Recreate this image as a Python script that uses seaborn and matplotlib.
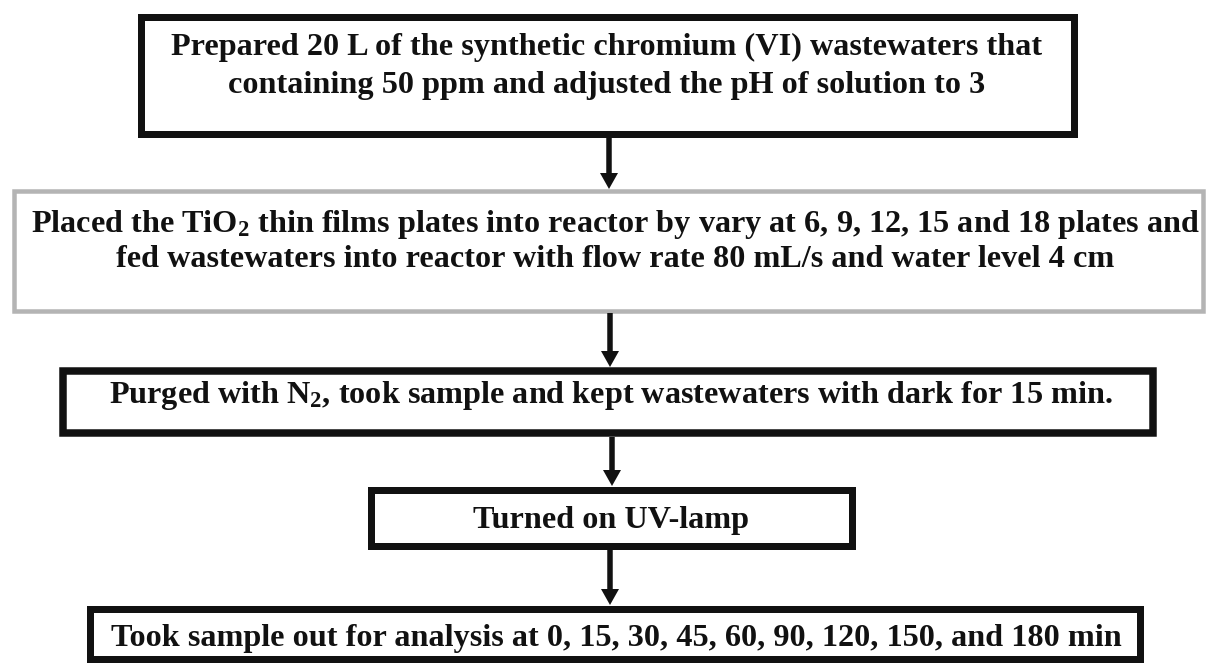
import matplotlib
matplotlib.use("Agg")
import matplotlib.pyplot as plt
import seaborn as sns
from matplotlib.patches import Rectangle, FancyArrow

# ---- chart content -------------------------------------------------------
step1_lines = ["Prepared 20 L of the synthetic chromium (VI) wastewaters that",
               "containing 50 ppm and adjusted the pH of solution to 3"]
step2_lines = [r"Placed the TiO$_2$ thin films plates into reactor by vary at 6, 9, 12, 15 and 18 plates and",
               "fed wastewaters into reactor with flow rate 80 mL/s and water level 4 cm"]
step3_lines = [r"Purged with N$_2$, took sample and kept wastewaters with dark for 15 min."]
step4_lines = ["Turned on UV-lamp"]
step5_lines = ["Took sample out for analysis at 0, 15, 30, 45, 60, 90, 120, 150, and 180 min"]
steps = [step1_lines, step2_lines, step3_lines, step4_lines, step5_lines]

# ---- style ---------------------------------------------------------------
sns.set_theme(style="white")
plt.rcParams['font.family'] = ['Liberation Serif', 'DejaVu Serif']
plt.rcParams['font.weight'] = 'bold'
plt.rcParams['mathtext.fontset'] = 'custom'
plt.rcParams['mathtext.rm'] = 'Liberation Serif:bold'
plt.rcParams['mathtext.it'] = 'Liberation Serif:bold'
plt.rcParams['mathtext.bf'] = 'Liberation Serif:bold'
plt.rcParams['mathtext.default'] = 'rm'

W, H = 1209, 663
fig = plt.figure(figsize=(W / 100, H / 100), dpi=100)
ax = fig.add_axes([0, 0, 1, 1])
ax.set_xlim(0, W)
ax.set_ylim(H, 0)
ax.axis('off')
sns.despine(ax=ax, left=True, bottom=True)

# ---- layout (pixel geometry) ---------------------------------------------
# (x0, y0, x1, y1) of border centre lines, line width in px, colour
boxes = [
    (140.5, 16.5, 1073.5, 133.5, 7.0, '#111111'),
    (14.0, 191.0, 1203.0, 311.0, 4.5, '#b4b4b4'),
    (63.0, 371.0, 1153.0, 433.0, 7.5, '#111111'),
    (370.5, 489.5, 851.5, 545.5, 7.0, '#111111'),
    (90.0, 608.5, 1139.5, 658.5, 7.0, '#111111'),
]
baselines = [[55, 93], [232, 267], [403], [528], [646]]
text_x = [607, 615, 611, 611, 616]
arrows = [(609, 137, 189), (610, 313, 367), (612, 437, 486), (610, 549, 605)]

PX = 72 / 100.0  # points per pixel

for (x0, y0, x1, y1, lw, col) in boxes:
    ax.add_patch(Rectangle((x0, y0), x1 - x0, y1 - y0, fill=False,
                           edgecolor=col, linewidth=lw * PX, joinstyle='miter'))

# font size fitted so that the first line of step 1 spans ~870 px
fs = 20.0
probe = ax.text(0, 0, step1_lines[0], fontsize=fs, fontweight='bold')
fig.canvas.draw()
wpx = probe.get_window_extent().width
probe.remove()
fs = fs * 870.0 / wpx

for lines, xs, ys in zip(steps, text_x, baselines):
    for line, yb in zip(lines, ys):
        ax.text(xs, yb, line, fontsize=fs, fontweight='bold', color='#111111',
                ha='center', va='baseline')

for (x, ys, ye) in arrows:
    ax.add_patch(FancyArrow(x, ys, 0, ye - ys, width=5.5, head_width=18,
                            head_length=16, length_includes_head=True,
                            color='#111111', linewidth=0))

fig.savefig("out.png", dpi=100)
